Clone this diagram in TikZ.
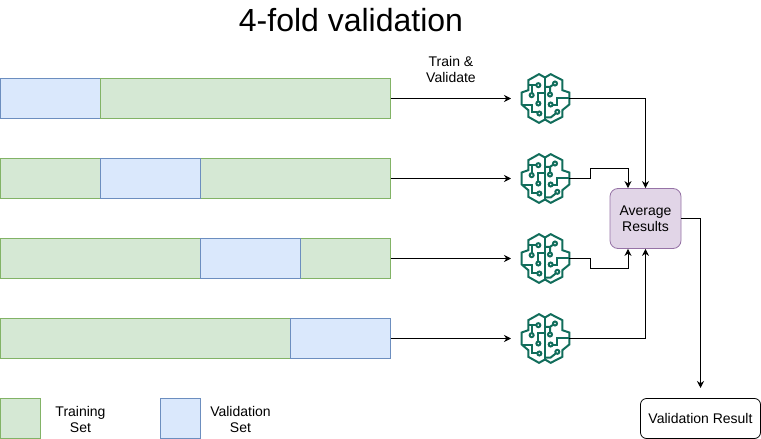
\documentclass[tikz,border=0pt]{standalone}
\usepackage{fontspec}
\setmainfont{Liberation Sans}
\usetikzlibrary{arrows.meta}
\definecolor{trainfill}{HTML}{D5E8D4}
\definecolor{trainline}{HTML}{82B366}
\definecolor{validfill}{HTML}{DAE8FC}
\definecolor{validline}{HTML}{6C8EBF}
\definecolor{avgfill}{HTML}{E1D5E7}
\definecolor{avgline}{HTML}{9673A6}
\definecolor{brainline}{HTML}{116D5B}
\tikzset{
  trainset/.style = {draw=trainline, fill=trainfill, line width=.8pt, inner sep=0, outer sep=0, minimum height=40pt, anchor=north west},
  validset/.style = {draw=validline, fill=validfill, line width=.8pt, inner sep=0, outer sep=0, minimum height=40pt, anchor=north west},
  label/.style = {font=\fontsize{14}{16}\selectfont, align=center, inner sep=0},
  conn/.style = {-{Stealth[length=7pt,width=7pt]}, line width=.9pt},
  model/.style = {inner sep=0, outer sep=0, minimum width=48pt, minimum height=50pt},
  brain/.pic = {
    \begin{scope}[x=.3333pt, y=-.3333pt, brainline, line width=2pt, line join=miter]
    \draw (-18,-73) -- (0,-63) -- (17,-73) -- (52,-55) -- (52,-25) -- (73,-18) -- (73,18) -- (52,35) -- (52,55) -- (17,73) -- (0,63) -- (-18,73) -- (-50,55) -- (-50,35) -- (-70,18) -- (-70,-18) -- (-50,-25) -- (-50,-55) -- cycle;
    \draw (0,-63) -- (0,63);
    \draw (-50,-40) -- (-26,-40) (-40,-40) -- (-40,-16);
    \draw (0,-18) -- (-20,-18) -- (-20,9);
    \draw (-70,18) -- (-38,18) -- (-38,42) -- (-23,42);
    \draw (0,-35) -- (15,-35) -- (24,-41) (15,-35) -- (15,-18);
    \draw (73,-3) -- (37,-3) -- (37,18) -- (23,18);
    \draw (0,57) -- (17,57) -- (31,46);
    \foreach \px/\py in {-20/-40, -40/-10, -20/15, -17/45, 30/-45, 15/-12, 17/18, 37/40}
      \draw (\px,\py) circle (6);
    \end{scope}
  }
}
\begin{document}
\begin{tikzpicture}[x=1pt, y=-1pt]
\useasboundingbox (0,0) rectangle (761,439);
\node [font=\fontsize{32}{36}\selectfont, inner sep=0] (title) at (351,20) {4-fold validation};
% folds
\node [validset, minimum width=100pt] (foldAv) at (0.5,78.5) {};
\node [trainset, minimum width=290pt] (foldAt) at (100.5,78.5) {};
\node [trainset, minimum width=100pt] (foldBs) at (0.5,158.5) {};
\node [trainset, minimum width=190pt] (foldBt) at (200.5,158.5) {};
\node [validset, minimum width=100pt] (foldBv) at (100.5,158.5) {};
\node [trainset, minimum width=200pt] (foldCs) at (0.5,238.5) {};
\node [trainset, minimum width=90pt] (foldCt) at (300.5,238.5) {};
\node [validset, minimum width=100pt] (foldCv) at (200.5,238.5) {};
\node [trainset, minimum width=290pt] (foldDt) at (0.5,318.5) {};
\node [validset, minimum width=100pt] (foldDv) at (290.5,318.5) {};
% models
\node [model] (modelA) at (545,98.5) {};
\node [model] (modelB) at (545,178.5) {};
\node [model] (modelC) at (545,258.5) {};
\node [model] (modelD) at (545,338.5) {};
\foreach \m in {modelA,modelB,modelC,modelD}
  \pic at (\m) {brain};
\node [label] (train) at (451,69) {Train \&\\Validate};
\node [label, draw=avgline, fill=avgfill, line width=.8pt, rounded corners=8pt, minimum width=71pt, minimum height=60pt] (avg) at (645.5,218.5) {Average\\Results};
\node [label, draw=black, fill=white, line width=.8pt, rounded corners=6pt, minimum width=120pt, minimum height=40pt] (result) at (700.5,418.5) {Validation Result};
\coordinate (resultin) at (700.5,388);
% legend
\node [trainset, minimum width=40pt] (keytrain) at (0.5,398.5) {};
\node [validset, minimum width=40pt] (keyvalid) at (160.5,398.5) {};
\node [label] (keytraintext) at (80.5,419) {Training\\Set};
\node [label] (keyvalidtext) at (240.5,419) {Validation\\Set};
% connectors
\draw [conn, shorten >=10pt] (foldAt.east) -- (modelA.west);
\draw [conn, shorten >=10pt] (foldBt.east) -- (modelB.west);
\draw [conn, shorten >=10pt] (foldCt.east) -- (modelC.west);
\draw [conn, shorten >=10pt] (foldDv.east) -- (modelD.west);
\draw [conn] (modelA.east) -| (avg.north);
\draw [conn] (modelD.east) -| (avg.south);
\coordinate (avgtop) at ([xshift=-17.5pt]avg.north);
\coordinate (avgbot) at ([xshift=-17.5pt]avg.south);
\draw [conn] (modelB.east) -- ++(21,0) -- ++(0,-10) -| (avgtop);
\draw [conn] (modelC.east) -- ++(21,0) -- ++(0,10) -| (avgbot);
\draw [conn] (avg.east) -- ++(19,0) -| (resultin);
\end{tikzpicture}
\end{document}
